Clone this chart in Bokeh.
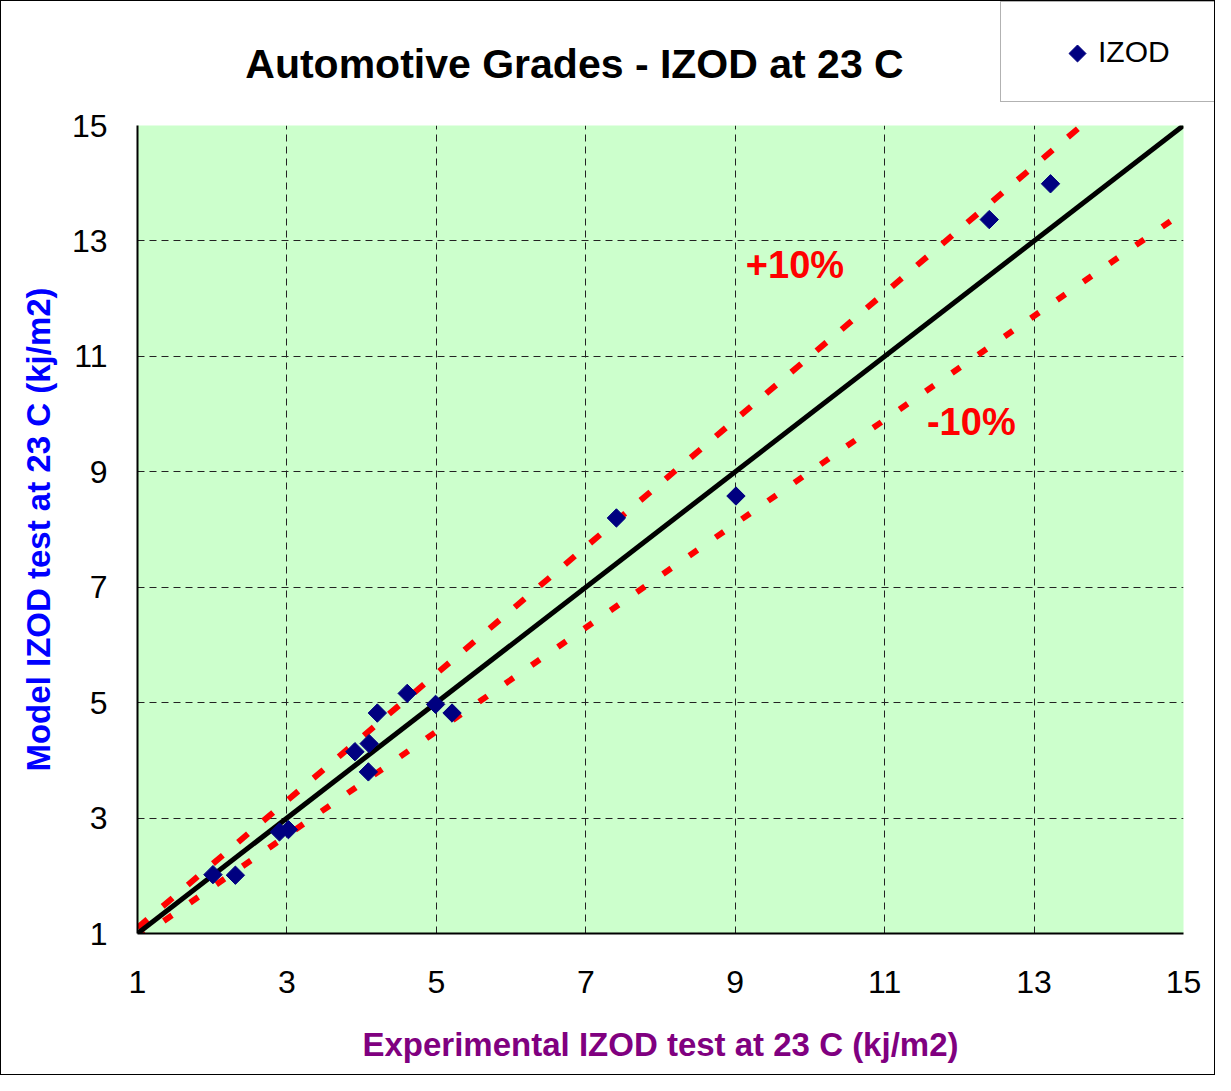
import numpy as np
from bokeh.plotting import figure
from bokeh.layouts import column, row
from bokeh.models import Range1d, FixedTicker, Label, Legend, LegendItem
from bokeh.embed import file_html
from bokeh.resources import INLINE

# ---- data ----
exp_izod = [2.01, 2.31, 2.90, 3.02, 3.91, 4.10, 4.09, 4.21, 4.61, 4.99, 5.21, 7.41, 9.01, 12.40, 13.22]
model_izod = [2.02, 2.01, 2.76, 2.80, 4.15, 4.29, 3.80, 4.82, 5.16, 4.97, 4.82, 8.20, 8.58, 13.37, 13.99]
ideal_x = [1, 15]
ideal_y = [1, 15]
plus_x = [1, 15]
plus_y = [1.1, 16.5]
minus_x = [1, 15]
minus_y = [0.9, 13.5]
ticks = [1, 3, 5, 7, 9, 11, 13, 15]
title_text = "Automotive Grades - IZOD at 23 C"
series_name = "IZOD"

FONT = "Liberation Sans"
NAVY = "#000080"

# ---------------- top band: title + legend ----------------
TOP_H = 102
LEG_W = 214
TITLE_W = 1213 - LEG_W

tf = figure(width=TITLE_W, height=TOP_H, output_backend="svg", toolbar_location=None,
            x_range=Range1d(0, TITLE_W), y_range=Range1d(0, TOP_H),
            min_border=0, x_axis_type=None, y_axis_type=None)
tf.outline_line_color = None
tf.grid.visible = False
tf.background_fill_color = "white"
tf.border_fill_color = "white"
tf.add_layout(Label(x=573, y=40, text=title_text, text_align="center", text_baseline="middle",
                    text_font=FONT, text_font_style="bold", text_font_size="41px",
                    text_color="black"))

lf = figure(width=LEG_W, height=TOP_H, output_backend="svg", toolbar_location=None,
            x_range=Range1d(0, LEG_W), y_range=Range1d(0, TOP_H),
            min_border=0, x_axis_type=None, y_axis_type=None)
lf.outline_line_color = None
lf.grid.visible = False
lf.background_fill_color = "white"
lf.border_fill_color = "white"
# legend entry renderer (its swatch is drawn by the visible marker below)
dummy = lf.scatter(x=[-50], y=[-50], marker="square", size=12, angle=np.pi / 4,
                   fill_color=NAVY, line_color=NAVY, fill_alpha=0, line_alpha=0)
lf.scatter(x=[77], y=[50], marker="square", size=12, angle=np.pi / 4,
           fill_color=NAVY, line_color=NAVY)
legend = Legend(items=[LegendItem(label=series_name, renderers=[dummy])],
                location=(0, 1), orientation="vertical",
                padding=32, margin=0, spacing=0,
                glyph_width=65, glyph_height=35,
                label_standoff=0, label_width=85, label_height=35,
                label_text_font=FONT, label_text_font_size="30px",
                label_text_color="black",
                border_line_color="#666666", border_line_width=1,
                background_fill_alpha=0.0)
lf.add_layout(legend, "center")

# ---------------- main chart ----------------
p = figure(width=1213, height=1073 - TOP_H, output_backend="svg", toolbar_location=None,
           x_range=Range1d(1, 15), y_range=Range1d(1, 15),
           min_border_left=136, min_border_right=31, min_border_top=22, min_border_bottom=141)
p.background_fill_color = "#CCFFCC"
p.border_fill_color = "white"
p.outline_line_color = None

for ax in (p.xaxis[0], p.yaxis[0]):
    ax.ticker = FixedTicker(ticks=ticks)
    ax.axis_line_color = "black"
    ax.axis_line_width = 2
    ax.major_tick_line_color = None
    ax.minor_tick_line_color = None
    ax.major_label_text_font = FONT
    ax.major_label_text_font_size = "32px"
    ax.major_label_text_color = "black"
    ax.axis_label_text_font = FONT
    ax.axis_label_text_font_style = "bold"
    ax.axis_label_text_font_size = "33px"

p.xaxis.axis_label = "Experimental IZOD test at 23 C (kj/m2)"
p.xaxis.axis_label_text_color = "#800080"
p.xaxis.major_label_standoff = 31
p.xaxis.axis_label_standoff = 30
p.yaxis.axis_label = "Model IZOD test at 23 C (kj/m2)"
p.yaxis.axis_label_text_color = "#0000FF"
p.yaxis.major_label_standoff = 24
p.yaxis.axis_label_standoff = 12

for g in (p.xgrid[0], p.ygrid[0]):
    g.ticker = FixedTicker(ticks=ticks)
    g.grid_line_color = "#222222"
    g.grid_line_dash = "7 5"
    g.grid_line_width = 1

p.line(plus_x, plus_y, line_color="red", line_width=6, line_dash="13 20")
p.line(minus_x, minus_y, line_color="red", line_width=6, line_dash="10 22")
p.line(ideal_x, ideal_y, line_color="black", line_width=5)
p.scatter(exp_izod, model_izod, marker="square", size=13, angle=np.pi / 4,
          fill_color=NAVY, line_color=NAVY)

p.add_layout(Label(x=9.80, y=12.58, text="+10%", text_align="center", text_baseline="middle",
                   text_font=FONT, text_font_style="bold", text_font_size="38px",
                   text_color="red"))
p.add_layout(Label(x=12.16, y=9.87, text="-10%", text_align="center", text_baseline="middle",
                   text_font=FONT, text_font_style="bold", text_font_size="38px",
                   text_color="red"))

layout = column(row(tf, lf, spacing=0), p, spacing=0,
                styles={"border": "1px solid black"})

open("out.html", "w").write(file_html(layout, INLINE))
